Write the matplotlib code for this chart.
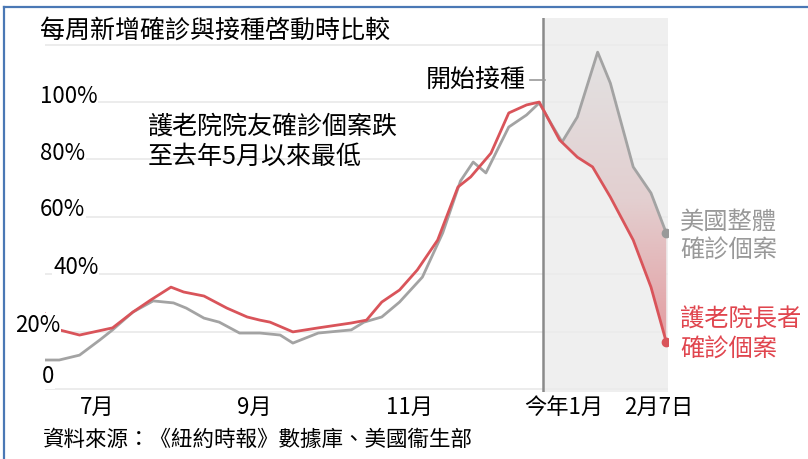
import numpy as np
import matplotlib
matplotlib.use("Agg")
import matplotlib.pyplot as plt
from matplotlib.colors import LinearSegmentedColormap
from matplotlib.lines import Line2D
from matplotlib.patches import Polygon
from matplotlib.transforms import blended_transform_factory, ScaledTranslation

plt.rcParams['font.family'] = ['Noto Sans CJK TC', 'DejaVu Sans']

# days counted from 2020-07-01, values = % of peak weekly cases
red_days = [-24, -18, -10, 3, 11, 18, 26, 31, 39, 48, 56, 61, 65, 74, 84, 97, 103, 109,
            116, 123, 131, 139, 144, 152, 159, 166, 171, 179, 186, 192, 199, 208, 215, 221]
red_vals = [26.5, 20.6, 18.8, 21.3, 26.8, 31.0, 35.5, 33.8, 32.4, 28.2, 25.1, 24.0, 23.3,
            19.9, 21.3, 23.0, 24.0, 30.3, 34.5, 41.5, 51.9, 70.4, 73.9, 82.2, 96.2, 99.0,
            100.0, 86.8, 80.8, 77.4, 66.9, 51.9, 35.5, 16.4]

gray_days = [-24, -18, -10, -2, 3, 11, 19, 27, 32, 39, 45, 53, 61, 69, 74, 84, 97, 102, 109,
             116, 125, 133, 140, 145, 150, 159, 166, 171, 176, 180, 186, 194, 199, 208, 215, 221]
gray_vals = [10.1, 10.1, 11.8, 17.1, 20.6, 26.8, 30.7, 30.0, 28.2, 24.7, 23.3, 19.5, 19.5,
             18.8, 16.0, 19.5, 20.6, 23.3, 25.1, 30.3, 39.0, 54.4, 72.5, 79.1, 75.3, 91.3,
             95.5, 99.7, 92.0, 86.1, 94.8, 117.4, 106.6, 77.4, 68.3, 54.4]

vacc_day = 172.4
tick_days = [0, 62, 123, 184, 221]
tick_labels = ['7月', '9月', '11月', '今年1月', '2月7日']
grid_vals = [0, 20, 40, 60, 80, 100, 120]
ylab_vals = [0, 20, 40, 60, 80, 100]
ylab_text = ['0', '20%', '40%', '60%', '80%', '100%']

RED = '#d9545a'
GRAY = '#a3a3a3'

W, H = 808, 459
fig = plt.figure(figsize=(W / 100, H / 100), dpi=100)
ax = fig.add_axes([45 / W, 1 - 392 / H, 623 / W, 374 / H])
ax.set_xlim(-23.6, 221.7)
ax.set_ylim(-1.05, 129.3)
for s in ax.spines.values():
    s.set_visible(False)

# shaded post-vaccination area
ax.axvspan(vacc_day, 221.7, color='#efefef', zorder=0, lw=0)
for g in grid_vals:
    ax.axhline(g, color='#ebebeb', lw=1.3, zorder=0.5)
ax.axvline(vacc_day, color='#8a8a8a', lw=1.8, zorder=1)

# gradient fill between the two lines after vaccination
gx = [d for d in gray_days if d >= 171]
gy = [v for d, v in zip(gray_days, gray_vals) if d >= 171]
rx = [d for d in red_days if d >= 171]
ry = [v for d, v in zip(red_days, red_vals) if d >= 171]
poly_pts = list(zip(gx, gy)) + list(zip(rx, ry))[::-1]
poly = Polygon(poly_pts, closed=True, facecolor='none', edgecolor='none')
ax.add_patch(poly)
cmap = LinearSegmentedColormap.from_list('g', ['#e39a9e', '#e3cfd0', '#e2e2e2'])
grad = np.linspace(0, 1, 256).reshape(-1, 1)
im = ax.imshow(grad, extent=[171, 221.7, 14, 118], origin='lower', aspect='auto',
               cmap=cmap, zorder=1.5)
im.set_clip_path(poly)

ax.plot(gray_days, gray_vals, color=GRAY, lw=2.0, zorder=2, solid_joinstyle='round')
ax.plot(red_days, red_vals, color=RED, lw=2.0, zorder=3, solid_joinstyle='round')
ax.plot(gray_days[-1], gray_vals[-1], 'o', color='#999999', ms=6, zorder=4)
ax.plot(red_days[-1], red_vals[-1], 'o', color=RED, ms=6, zorder=4)

# x ticks
ax.set_xticks(tick_days)
ax.set_xticklabels(tick_labels, fontsize=16)
ax.tick_params(axis='x', length=0, pad=3)
for lab in ax.get_xticklabels():
    lab.set_transform(lab.get_transform() + ScaledTranslation(-0.08, 0, fig.dpi_scale_trans))
ax.set_yticks([])

# y labels as texts with white background
tr = blended_transform_factory(fig.transFigure, ax.transData)
ylab_x = [42, 15, 53, 40, 40, 40]
ylab_off = [4.2, 2.3, 2.2, 2.4, 2.2, 2.1]
for v, t, xp, off in zip(ylab_vals, ylab_text, ylab_x, ylab_off):
    ax.text(xp / W, v + off, t, transform=tr, fontsize=16, va='center', ha='left',
            zorder=5, clip_on=False,
            bbox=dict(facecolor='white', edgecolor='none', pad=0.5))

# annotations
ax.text(146, 107.7, '開始接種', fontsize=18, ha='center', va='center', zorder=5,
        bbox=dict(facecolor='white', edgecolor='none', pad=1))
ax.plot([167.3, 173.2], [107.7, 107.7], color='#999999', lw=1.2, zorder=5)
ax.text(16.9, 91.3, '護老院院友確診個案跌', fontsize=18, ha='left', va='center', zorder=5)
ax.text(16.9, 80.8, '至去年5月以來最低', fontsize=18, ha='left', va='center', zorder=5)

ax.text(226.4, 58.2, '美國整體', fontsize=17.5, color='#999999', va='center', clip_on=False)
ax.text(226.4, 48.1, '確診個案', fontsize=17.5, color='#999999', va='center', clip_on=False)
ax.text(226.4, 24.0, '護老院長者', fontsize=17.5, color='#e0454e', va='center', clip_on=False)
ax.text(226.4, 13.6, '確診個案', fontsize=17.5, color='#e0454e', va='center', clip_on=False)

fig.text(40 / W, 1 - 31 / H, '每周新增確診與接種啓動時比較', fontsize=18, va='center', ha='left')
fig.text(43 / W, 1 - 440 / H, '資料來源：《紐約時報》數據庫、美國衞生部', fontsize=15.5,
         va='center', ha='left')

# blue frame
fig.add_artist(Line2D([4 / W, 1], [1 - 7 / H, 1 - 7 / H], color='#4a78b5', lw=1.6,
                      transform=fig.transFigure))
fig.add_artist(Line2D([4 / W, 4 / W], [0, 1 - 7 / H], color='#4a78b5', lw=1.6,
                      transform=fig.transFigure))

fig.savefig('out.png', dpi=100)
